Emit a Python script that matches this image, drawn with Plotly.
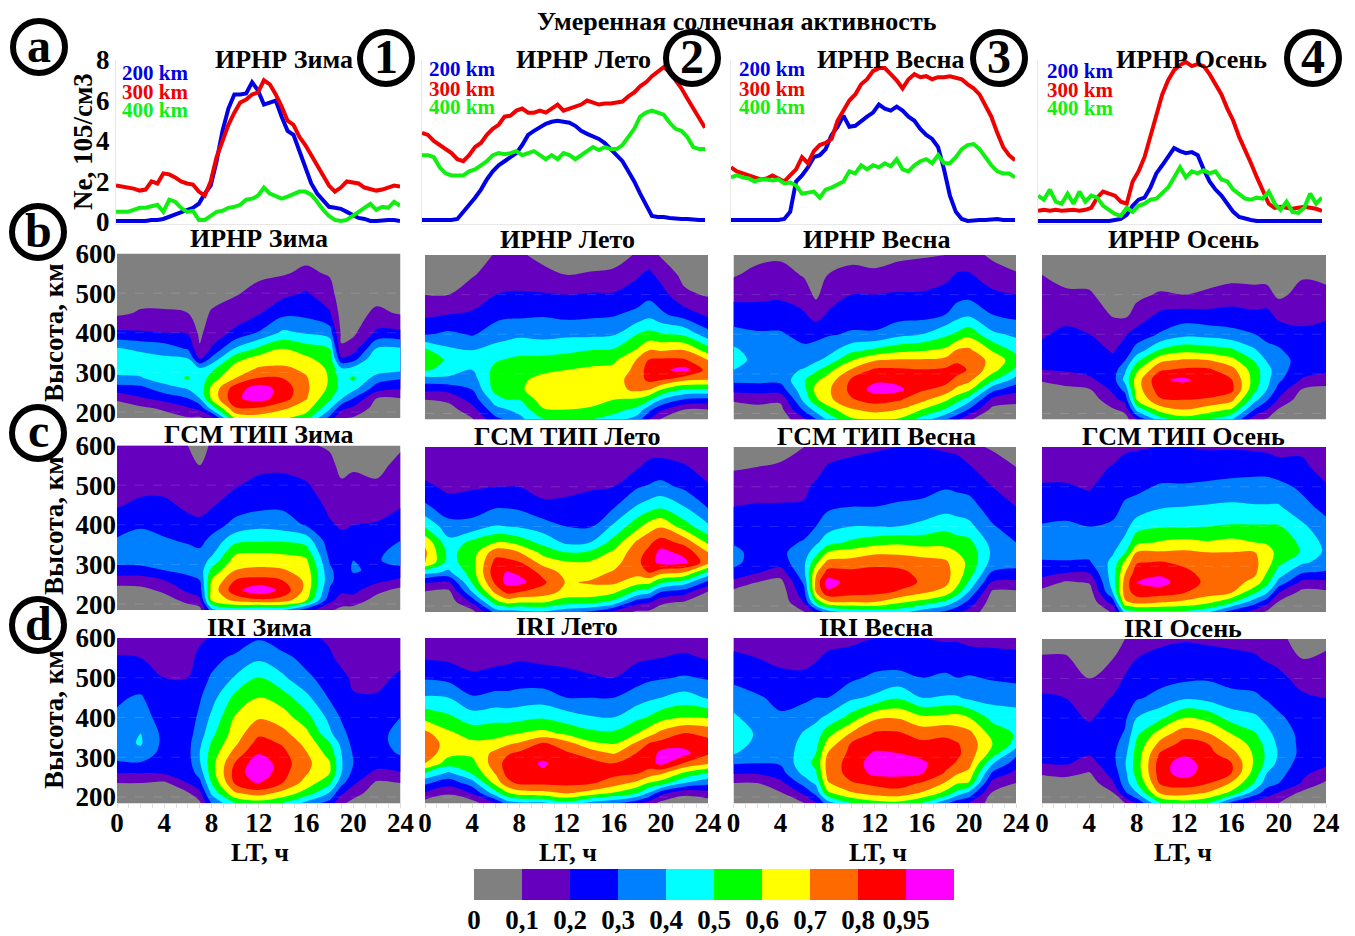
import numpy as np
import plotly.graph_objects as go

W, H_PX = 1355, 936
FONT = "Liberation Serif"

# ---------- data ----------
LT_HALF = [i * 0.5 for i in range(49)]
a1_200 = [.05,.05,.05,.05,.05,.05,.1,.1,.15,.25,.35,.45,.55,.7,.9,1.4,1.8,3.0,4.5,5.6,6.3,6.3,6.35,6.9,6.5,5.8,5.9,6.0,5.2,4.5,4.3,3.5,2.7,1.9,1.4,1.1,.75,.7,.65,.5,.35,.2,.15,.05,.05,.1,.1,.1,.05]
a1_300 = [1.8,1.75,1.7,1.65,1.55,1.6,2.0,1.9,2.4,2.35,2.2,2.0,1.9,1.85,1.5,1.3,2.0,3.2,4.0,4.8,5.4,5.9,6.05,6.3,6.4,7.0,6.8,6.3,5.7,5.0,4.8,4.2,3.8,3.3,2.8,2.3,1.8,1.5,1.7,2.0,1.95,1.9,1.7,1.6,1.55,1.6,1.7,1.8,1.75]
a1_400 = [.5,.5,.5,.6,.7,.7,.75,.85,.5,1.1,1.0,.7,.5,.55,.1,.1,.3,.5,.55,.7,.75,.85,1.1,1.15,1.3,1.7,1.4,1.3,1.15,1.25,1.35,1.5,1.5,1.35,1.0,.6,.3,.1,.05,.1,.3,.5,.65,.9,.6,.75,.7,1.0,.8]
a2_200 = [.1,.1,.1,.1,.1,.1,.15,.5,.8,1.2,1.6,2.1,2.5,2.8,3.0,3.2,3.4,3.8,4.3,4.5,4.7,4.85,4.95,5.0,4.95,4.9,4.75,4.5,4.35,4.25,4.1,3.9,3.6,3.3,3.0,2.5,2.0,1.4,.8,.3,.25,.25,.2,.15,.15,.15,.1,.1,.1]
a2_300 = [4.4,4.3,4.0,3.8,3.6,3.4,3.1,3.0,3.3,3.7,3.9,4.3,4.6,4.8,5.2,5.25,5.5,5.6,5.4,5.4,5.5,5.4,5.6,5.8,5.5,5.6,5.7,5.8,6.0,5.9,5.8,5.85,5.85,5.9,5.95,6.2,6.4,6.7,6.9,7.2,7.45,7.65,7.4,7.0,6.6,6.1,5.6,5.1,4.65]
a2_400 = [3.3,3.3,3.2,2.7,2.4,2.3,2.3,2.3,2.5,2.6,2.8,3.0,3.3,3.4,3.35,3.4,3.5,3.3,3.4,3.5,3.3,3.1,3.3,3.1,3.4,3.3,3.1,3.3,3.5,3.7,3.55,3.7,3.6,3.6,3.8,4.2,4.6,5.2,5.4,5.5,5.4,5.3,4.9,4.6,4.5,4.2,3.7,3.6,3.6]
a3_200 = [.1,.1,.1,.1,.1,.1,.1,.1,.1,.15,.5,2.0,2.3,2.7,3.2,3.3,3.6,4.3,4.7,5.25,4.7,4.75,5.0,5.2,5.4,5.8,5.6,5.5,5.7,5.5,5.2,5.0,4.6,4.3,4.1,3.7,2.6,1.3,.5,.15,.05,.1,.1,.1,.15,.15,.1,.1,.1]
a3_300 = [2.7,2.5,2.4,2.3,2.15,2.1,2.15,2.3,2.15,2.0,2.3,2.6,3.2,2.9,3.5,3.8,3.9,4.1,5.0,5.5,6.0,6.3,6.8,7.05,7.45,7.6,7.6,7.3,7.0,6.6,7.05,7.3,7.15,7.2,7.05,7.15,7.15,7.2,7.15,7.05,6.8,6.6,6.3,5.7,5.2,4.4,3.7,3.3,3.05]
a3_400 = [2.2,2.3,2.2,2.15,2.0,2.1,2.1,2.05,2.1,1.9,1.95,1.8,1.4,1.45,1.5,1.2,1.6,1.7,1.85,2.0,2.5,2.4,2.8,2.6,2.8,2.7,2.9,2.75,3.1,2.6,2.5,2.8,3.0,3.1,2.9,3.3,2.9,2.9,3.2,3.6,3.8,3.85,3.6,3.2,2.8,2.5,2.4,2.4,2.2]
a4_200 = [.05,.05,.05,.05,.05,.05,.05,.05,.05,.05,.05,.05,.05,.1,.15,.35,.8,1.1,1.2,1.7,2.4,2.8,3.2,3.65,3.5,3.4,3.45,3.3,2.6,2.0,1.6,1.3,.9,.5,.25,.15,.1,.05,.05,.05,.05,.05,.05,.05,.05,.05,.05,.05,.05]
a4_300 = [.55,.6,.55,.6,.55,.6,.6,.55,.6,.7,1.2,1.5,1.4,1.3,1.0,.9,2.0,2.5,3.2,4.2,5.2,6.3,7.0,7.5,7.75,7.9,7.7,7.8,7.7,7.3,6.8,6.3,5.6,5.0,4.2,3.6,2.9,2.2,1.5,.9,.7,.75,.7,.65,.7,.75,.7,.65,.55]
a4_400 = [1.3,1.1,1.6,1.0,.9,1.4,.9,1.5,1.0,1.3,1.2,.8,.6,.4,.3,.7,.5,.8,.9,1.1,1.15,1.4,1.7,2.2,2.7,2.2,2.5,2.4,2.55,2.4,2.5,2.1,2.0,1.6,1.4,1.15,1.1,1.2,1.15,1.5,.9,.6,1.0,.5,.45,.7,1.4,.9,1.2]

HOURS = [0, 2, 4, 6, 7, 8, 10, 12, 14, 16, 18, 19, 20, 22, 24]
ALTS = [600, 550, 500, 450, 400, 360, 335, 310, 285, 260, 235, 210, 185]

# each row = one entry of HOURS, values (percent of peak) from 600 km down to 185 km
b_zima = [
 [2,3,5,8,22,41,49,46,37,26,12,5,3],
 [3,4,6,11,21,38,44,44,39,27,19,8,4],
 [3,4,6,11,20,35,42,47,45,36,24,12,5],
 [3,4,6,10,19,29,40,47,51,41,30,19,9],
 [3,4,5,6,8,11,19,41,43,44,40,24,8],
 [3,4,6,11,15,21,32,47,55,62,62,44,15],
 [3,5,9,15,22,41,56,64,70,88,92,79,62],
 [4,8,13,19,31,52,64,71,81,102,102,79,65],
 [5,9,17,27,42,60,65,72,80,90,88,72,62],
 [7,12,21,27,39,55,62,68,71,72,71,65,55],
 [4,9,14,21,35,50,55,58,59,58,52,42,27],
 [3,3,4,6,8,11,21,41,45,46,41,23,10],
 [3,3,4,6,8,15,25,43,52,44,30,18,9],
 [3,3,6,12,22,41,50,47,35,25,10,6,3],
 [3,3,5,9,22,41,50,44,31,21,10,6,3],
]
b_leto = [
 [3,5,10,18,29,52,57,51,35,22,10,6,3],
 [3,5,10,20,32,42,48,47,36,23,12,6,3],
 [4,9,16,21,29,40,42,40,35,30,24,16,9],
 [11,15,20,27,35,44,49,53,55,54,45,37,27],
 [12,15,21,28,37,45,51,54,57,56,50,40,31],
 [11,16,21,28,38,47,52,56,58,58,50,43,37],
 [8,12,21,29,37,46,53,58,63,67,65,59,49],
 [6,10,20,27,38,48,54,60,66,69,66,60,50],
 [5,11,21,28,38,50,56,62,67,69,66,58,50],
 [6,12,21,29,39,51,58,63,66,67,60,54,45],
 [11,19,24,33,50,61,71,73,75,72,58,47,35],
 [14,22,27,37,53,70,81,88,84,70,52,33,20],
 [9,17,24,32,51,69,83,91,81,60,40,22,9],
 [5,7,12,25,48,70,82,101,72,49,29,10,5],
 [3,6,9,18,34,55,70,76,70,49,27,10,5],
]
b_vesna = [
 [6,9,17,25,33,42,44,40,33,23,11,6,3],
 [7,13,17,25,31,35,37,36,33,24,13,7,4],
 [8,14,18,25,31,35,36,36,33,25,12,7,4],
 [5,9,15,21,27,32,35,41,49,47,43,32,18],
 [3,5,8,16,27,34,38,48,58,63,58,44,29],
 [5,10,15,21,29,36,43,56,64,68,67,55,42],
 [7,13,20,26,31,47,59,71,82,84,79,69,58],
 [6,12,20,26,31,52,69,83,92,101,86,74,60],
 [8,14,21,26,37,57,71,83,90,99,82,70,59],
 [9,15,21,26,40,59,71,81,85,82,73,60,45],
 [10,17,24,30,48,62,73,83,86,76,62,49,31],
 [13,21,26,36,52,71,78,86,77,67,54,39,22],
 [14,21,27,38,57,72,79,79,73,62,44,29,11],
 [8,15,22,30,42,59,66,64,52,33,17,7,4],
 [5,11,20,27,38,47,55,48,36,23,13,6,3],
]
b_osen = [
 [6,10,13,16,19,22,23,20,11,6,4,3,2],
 [5,8,11,17,22,25,25,21,15,7,4,3,2],
 [5,7,11,16,20,24,25,23,18,9,4,3,2],
 [3,4,6,9,16,19,22,25,26,22,17,9,4],
 [3,4,6,8,19,24,29,38,43,33,23,13,5],
 [3,5,8,13,24,34,47,58,65,65,60,43,20],
 [3,5,11,22,31,51,67,79,93,88,79,65,45],
 [3,5,10,24,37,57,71,83,98,87,80,70,55],
 [3,5,12,23,36,55,70,83,88,87,79,65,50],
 [4,7,14,24,33,52,63,74,81,84,73,59,41],
 [4,7,13,22,30,41,49,54,55,52,43,29,13],
 [3,7,13,23,26,34,39,44,43,40,31,20,9],
 [2,4,8,17,26,31,34,34,32,26,19,9,4],
 [5,9,13,17,22,25,26,24,19,9,4,3,2],
 [5,8,12,19,22,24,24,22,15,7,4,3,2],
]
c_zima = [
 [11,13,16,19,26,31,33,33,26,15,6,4,3],
 [12,14,17,22,29,33,35,34,26,15,7,4,3],
 [12,14,17,22,27,31,34,33,30,20,12,6,3],
 [10,12,15,18,23,29,32,33,32,28,22,13,5],
 [7,10,13,17,22,27,31,34,34,30,25,18,6],
 [11,13,17,19,25,33,36,43,53,60,63,61,36],
 [12,15,19,25,33,47,57,64,70,80,90,73,45],
 [13,17,23,27,37,49,58,66,72,85,106,78,40],
 [12,18,23,28,35,49,57,65,71,80,91,76,42],
 [11,16,21,25,29,46,54,62,66,68,67,61,25],
 [9,12,15,18,21,24,26,29,32,33,29,23,12],
 [6,8,11,15,19,22,24,25,25,24,22,16,7],
 [6,9,12,16,20,24,27,30,31,27,23,16,6],
 [6,8,11,15,21,25,27,29,28,23,13,6,4],
 [9,12,15,19,26,30,34,34,27,18,7,4,3],
]
c_leto = [
 [11,16,22,32,49,68,72,72,44,21,9,5,3],
 [11,14,18,24,34,43,47,46,38,19,7,4,3],
 [12,15,19,25,34,53,55,56,55,51,40,22,6],
 [13,17,20,29,41,60,76,85,91,84,73,56,34],
 [13,17,20,29,40,60,75,84,96,101,84,64,35],
 [13,16,20,28,39,56,70,81,92,100,80,61,37],
 [12,14,17,22,35,47,57,66,77,83,76,61,39],
 [12,14,17,23,30,38,50,61,66,69,66,55,33],
 [13,16,19,24,29,40,52,61,66,71,66,54,28],
 [13,16,20,29,42,54,62,66,71,72,62,47,17],
 [14,19,29,41,57,72,76,78,74,64,47,24,8],
 [15,23,31,45,65,78,84,87,81,63,43,21,8],
 [15,24,33,48,69,87,100,101,74,52,30,12,5],
 [14,21,28,40,55,77,90,99,70,45,24,9,4],
 [13,16,21,29,42,58,70,74,48,27,9,5,3],
]
c_vesna = [
 [5,9,14,20,25,29,33,33,27,17,7,4,3],
 [5,10,15,21,23,25,26,25,21,10,5,4,3],
 [7,11,16,21,24,27,28,25,15,7,4,3,2],
 [10,14,18,21,26,31,35,38,38,32,27,21,9],
 [11,16,22,27,30,38,46,57,68,73,70,52,22],
 [14,21,25,28,36,46,60,73,85,102,92,68,35],
 [17,23,26,30,40,52,64,74,84,89,87,70,42],
 [19,23,26,30,40,56,68,77,85,90,85,70,44],
 [20,24,27,31,40,58,68,76,84,86,79,62,44],
 [20,24,27,32,43,56,66,74,77,79,72,57,35],
 [19,23,29,36,47,57,64,72,74,73,66,48,28],
 [18,23,28,35,45,54,60,64,65,63,55,38,22],
 [12,21,27,34,43,53,57,58,56,49,39,27,16],
 [9,14,20,25,31,36,38,36,29,19,8,4,3],
 [5,10,15,20,25,30,33,33,28,18,8,4,3],
]
c_osen = [
 [13,16,21,24,31,34,33,29,25,15,7,4,3],
 [12,16,21,25,32,35,34,29,21,9,4,3,2],
 [12,15,19,24,30,33,33,29,21,11,5,3,2],
 [13,21,25,28,31,35,39,43,45,45,41,25,11],
 [18,24,28,31,36,43,49,62,69,74,75,68,44],
 [19,24,28,33,46,57,70,79,87,96,87,74,47],
 [20,25,31,39,49,61,71,81,91,101,88,71,48],
 [20,25,31,40,49,63,72,78,83,87,81,68,48],
 [19,25,32,41,50,61,70,74,77,78,75,63,42],
 [19,26,33,42,51,63,70,73,75,74,71,52,25],
 [18,27,33,41,51,60,70,72,72,67,52,34,15],
 [17,27,33,41,51,59,64,65,60,53,42,24,8],
 [16,24,33,41,51,56,57,53,46,37,21,9,5],
 [18,22,28,33,42,48,49,42,31,17,7,4,3],
 [12,16,21,27,33,37,38,36,29,18,8,4,3],
]
d_zima = [
 [14,21,25,29,31,36,36,33,29,20,10,5,3],
 [14,20,25,31,35,40,41,37,29,20,10,5,3],
 [13,16,20,23,25,27,27,26,24,21,8,4,3],
 [13,16,20,22,25,26,27,27,26,24,20,9,4],
 [18,23,26,29,32,35,38,40,39,34,27,18,8],
 [21,27,31,36,42,47,51,54,56,55,50,42,31],
 [23,32,41,53,61,65,68,74,81,86,82,69,50],
 [29,38,51,60,69,78,86,94,106,107,96,75,55],
 [24,33,42,55,65,73,79,84,87,85,80,67,50],
 [23,27,32,43,54,63,67,71,73,71,66,56,37],
 [18,22,26,29,37,42,51,56,61,60,52,39,26],
 [13,17,23,27,29,33,37,40,41,40,33,22,12],
 [11,14,18,21,24,26,27,29,30,27,22,14,7],
 [10,13,17,21,25,27,27,26,24,17,8,5,3],
 [12,17,22,26,30,33,33,31,26,19,10,5,3],
]
d_leto = [
 [14,19,29,41,57,73,78,77,70,50,32,19,5],
 [14,18,27,40,52,62,65,63,55,38,24,11,4],
 [12,16,22,31,45,56,62,62,57,51,35,21,5],
 [13,17,24,33,47,56,64,73,76,71,64,46,21],
 [13,18,24,33,46,58,68,79,85,85,77,59,35],
 [14,19,25,34,47,60,71,83,88,87,83,65,38],
 [14,18,24,35,49,63,82,89,97,93,83,67,38],
 [13,17,23,30,45,58,74,82,87,88,84,71,47],
 [13,16,21,30,41,53,62,76,85,86,82,66,37],
 [12,16,20,30,40,52,59,69,80,84,75,59,32],
 [13,18,26,35,48,60,72,81,85,81,67,50,23],
 [15,19,28,38,51,66,80,84,88,76,59,39,15],
 [15,20,29,40,56,73,85,100,100,72,55,24,7],
 [14,22,31,44,60,81,89,100,79,58,40,12,5],
 [14,19,29,39,59,78,84,82,72,49,33,16,5],
]
d_vesna = [
 [16,22,28,34,42,45,44,41,31,21,10,5,3],
 [15,20,26,31,34,39,38,34,30,21,10,5,3],
 [13,17,23,28,31,32,32,32,31,26,17,9,3],
 [12,17,22,28,35,41,44,46,47,43,34,22,10],
 [14,19,24,30,38,44,47,50,52,49,42,33,20],
 [16,22,27,30,42,56,63,70,74,73,69,58,35],
 [18,23,28,38,54,71,81,84,86,86,79,69,50],
 [20,25,32,42,68,82,88,97,103,99,84,74,56],
 [20,25,33,49,69,82,88,95,103,99,87,76,57],
 [20,24,30,40,62,76,83,90,98,96,79,69,50],
 [19,24,32,41,63,78,84,87,85,79,69,57,33],
 [19,24,30,41,64,75,81,83,79,71,61,46,23],
 [18,23,31,38,60,73,76,76,74,67,59,37,20],
 [18,22,29,36,47,56,60,56,41,28,16,9,5],
 [17,22,28,35,45,49,47,33,25,17,10,5,3],
]
d_osen = [
 [6,11,17,21,24,26,26,24,20,11,5,3,2],
 [6,11,16,20,23,25,26,24,21,13,5,3,2],
 [3,6,10,14,19,23,25,21,16,9,4,3,2],
 [5,10,14,21,24,26,27,28,27,24,19,9,4],
 [10,15,21,25,28,31,34,37,39,37,35,28,10],
 [15,20,25,29,40,48,52,54,55,54,49,39,22],
 [17,24,27,33,48,65,73,82,88,88,82,71,50],
 [19,25,28,39,60,76,85,92,103,103,87,74,55],
 [18,24,29,37,57,71,80,85,88,86,81,69,51],
 [17,23,27,33,46,60,67,74,81,80,69,57,27],
 [17,21,26,32,42,51,56,58,58,55,49,34,16],
 [15,19,25,29,37,43,46,48,47,40,34,25,12],
 [13,17,23,26,32,36,38,39,37,34,30,19,10],
 [5,10,16,22,25,27,27,27,25,22,19,7,4],
 [7,12,16,20,24,26,27,25,22,16,8,4,3],
]

LEVELS = [0, 10, 20, 30, 40, 50, 60, 70, 80, 95, 110]
LEVEL_LABELS = ["0", "0,1", "0,2", "0,3", "0,4", "0,5", "0,6", "0,7", "0,8", "0,95"]
COLORS = ["#808080", "#6400BE", "#0000FF", "#0080FF", "#00FFFF", "#00FF00", "#FFFF00", "#FF6A00", "#FF0000", "#FF00FF"]
COL_NAMES = ["Зима", "Лето", "Весна", "Осень"]

ROW_GRIDS = [
    ("ИРНР", [b_zima, b_leto, b_vesna, b_osen]),
    ("ГСМ ТИП", [c_zima, c_leto, c_vesna, c_osen]),
    ("IRI", [d_zima, d_leto, d_vesna, d_osen]),
]
LINES = [(a1_200, a1_300, a1_400), (a2_200, a2_300, a2_400), (a3_200, a3_300, a3_400), (a4_200, a4_300, a4_400)]

# ---------- layout in pixels ----------
def px(x): return x / W
def py(y): return 1 - y / H_PX

LINE_X = [(116, 400), (422, 705), (731, 1015), (1038, 1322)]
CONT_X = [(117, 400.5), (425, 708), (733.5, 1016), (1042, 1326)]
CONT_Y = [
    [(253.5, 418), (255, 419.5), (255, 419.5), (255, 419.5)],
    [(445.5, 610), (447, 612), (447, 612), (447, 612)],
    [(638, 803), (638, 803), (638, 803), (639, 803)],
]

steps = []
n = len(COLORS)
for i, c in enumerate(COLORS):
    steps += [[i / n, c], [(i + 1) / n, c]]

fig = go.Figure()
layout = {}
shapes = []
ax = 0

def font(size, color="black"):
    return dict(family=FONT, size=size, color=color, weight=700)

TICK = 27
for col in range(4):
    ax += 1
    xn, yn = f"xaxis{ax}", f"yaxis{ax}"
    x0, x1 = LINE_X[col]
    layout[xn] = dict(domain=[px(x0), px(x1)], range=[0, 24], showticklabels=False, ticks="", showgrid=False,
                      zeroline=False, showline=True, linecolor="#e8e8e8", linewidth=1, anchor=f"y{ax}")
    layout[yn] = dict(domain=[py(224), py(60)], range=[-0.1, 8], showgrid=False, zeroline=False, showline=True,
                      linecolor="#e8e8e8", linewidth=1, anchor=f"x{ax}", tickvals=[0, 2, 4, 6, 8],
                      showticklabels=col == 0, tickfont=font(TICK), ticks="")
    for ser, c in zip(LINES[col], ["#0000E6", "#F00000", "#10F010"]):
        fig.add_trace(go.Scatter(x=LT_HALF, y=ser, mode="lines", line=dict(color=c, width=4), xaxis=f"x{ax}",
                                 yaxis=f"y{ax}", showlegend=False, hoverinfo="skip", cliponaxis=False))

for r, (prefix, grids) in enumerate(ROW_GRIDS):
    for col, grid in enumerate(grids):
        ax += 1
        xn, yn = f"xaxis{ax}", f"yaxis{ax}"
        x0, x1 = CONT_X[col]
        y0, y1 = CONT_Y[r][col]
        bottom = r == 2
        layout[xn] = dict(domain=[px(x0), px(x1)], range=[0, 24], tickvals=list(range(0, 25, 4)),
                          showticklabels=bottom, tickfont=font(TICK), ticks="", showgrid=False, zeroline=False,
                          showline=bottom, linecolor="#dddddd", anchor=f"y{ax}", ticklen=0, ticklabelstandoff=-4,
                          minor=dict(ticks="outside" if bottom else "", dtick=1, ticklen=4, tickcolor="#dddddd", showgrid=False))
        layout[yn] = dict(domain=[py(y1), py(y0)], range=[185, 600], tickvals=[200, 300, 400, 500, 600],
                          showticklabels=col == 0, tickfont=font(TICK), ticks="", showgrid=False, zeroline=False,
                          anchor=f"x{ax}")
        z = np.interp(np.array(grid, dtype=float).T[::-1], LEVELS, np.arange(len(LEVELS)))
        fig.add_trace(go.Contour(x=HOURS, y=ALTS[::-1], z=z, zmin=0, zmax=10, colorscale=steps, showscale=False,
                                 contours=dict(start=1, end=9, size=1, coloring="fill", showlines=False),
                                 line=dict(width=0, smoothing=1), xaxis=f"x{ax}", yaxis=f"y{ax}",
                                 hoverinfo="skip", autocontour=False))
        for alt in [200, 300, 400, 500]:
            shapes.append(dict(type="line", xref=f"x{ax}", yref=f"y{ax}", x0=0, x1=24, y0=alt, y1=alt, layer="above",
                               line=dict(color="rgba(255,255,255,0.14)", width=1, dash="dash")))

# colour key
ax += 1
layout[f"xaxis{ax}"] = dict(domain=[px(474), px(954)], range=[0, 10], tickvals=list(range(10)), ticktext=LEVEL_LABELS,
                            tickfont=font(TICK), ticks="", ticklen=0, ticklabelstandoff=1, showgrid=False, zeroline=False,
                            anchor=f"y{ax}")
layout[f"yaxis{ax}"] = dict(domain=[py(900), py(869)], range=[0, 1], visible=False, anchor=f"x{ax}")
fig.add_trace(go.Heatmap(x=[i + 0.5 for i in range(10)], y=[0.5], z=[list(range(10))], zmin=-0.5, zmax=9.5, colorscale=steps,
                         showscale=False, xaxis=f"x{ax}", yaxis=f"y{ax}", hoverinfo="skip", ygap=0, xgap=0))

# ---------- text ----------
anns = []
def text(s, x, y, size, color="black", angle=0):
    anns.append(dict(text=s, x=px(x), y=py(y), xref="paper", yref="paper", showarrow=False, xanchor="center",
                     yanchor="middle", font=font(size, color), textangle=angle))

text("Умеренная солнечная активность", 737, 21, 26)
ROW_A_TITLES = [("ИРНР Зима", 284), ("ИРНР Лето", 583), ("ИРНР Весна", 890), ("ИРНР Осень", 1191)]
for s, x in ROW_A_TITLES:
    text(s, x, 59, 26)
TITLE_X = [259, 567, 876, 1183]
TITLE_Y = [[238, 240, 240, 240], [434, 436, 436, 436], [627, 626, 627, 628]]
for r, (prefix, _) in enumerate(ROW_GRIDS):
    for c, name in enumerate(COL_NAMES):
        text(f"{prefix} {name}", TITLE_X[c], TITLE_Y[r][c], 26)
LEG = [(155, [73, 92, 110]), (462, [69, 89, 107]), (772, [69, 89, 107]), (1080, [71, 90, 108])]
for x, ys in LEG:
    for s, c, y in zip(["200 km", "300 km", "400 km"], ["#0000E6", "#F00000", "#10F010"], ys):
        text(s, x, y, 21, c)
for x in [260, 568, 878, 1183]:
    text("LT, ч", x, 852, 26)
text("Ne, 105/см3", 83, 142, 27, angle=-90)
for y in [333, 526, 720]:
    text("Высота, км", 54, y, 27, angle=-90)

for s, x, y, rad, size in [("a", 39, 47, 26, 48), ("b", 38, 232, 26, 48), ("c", 38, 433, 26, 48), ("d", 38, 625, 26, 48),
                           ("1", 386, 58, 26, 48), ("2", 692, 58, 26, 48), ("3", 999, 58, 26, 48), ("4", 1313, 58, 26, 48)]:
    shapes.append(dict(type="circle", xref="paper", yref="paper", x0=px(x - rad), x1=px(x + rad), y0=py(y + rad), y1=py(y - rad),
                       line=dict(color="black", width=6), fillcolor="white", layer="above"))
    text(s, x, y - 2, size)

fig.update_layout(width=W, height=H_PX, margin=dict(l=0, r=0, t=0, b=0, autoexpand=False), paper_bgcolor="white", plot_bgcolor="white",
                  showlegend=False, shapes=shapes, annotations=anns, **layout)
fig.write_html("out.html", post_script="document.body.style.margin='0';", config={"displayModeBar": False})
